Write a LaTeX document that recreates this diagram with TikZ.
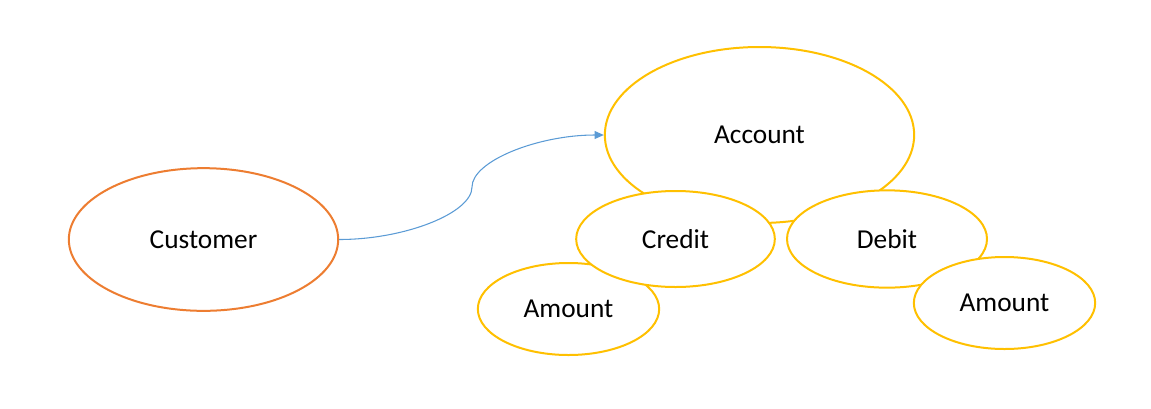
\documentclass[tikz,border=0pt]{standalone}
\usepackage{fontspec}
\setmainfont{Carlito}
\usetikzlibrary{shapes.geometric,arrows.meta}

\definecolor{custorange}{HTML}{ED7D31}
\definecolor{acctyellow}{HTML}{FFC000}
\definecolor{linkblue}{HTML}{5B9BD5}

\tikzset{
    entity/.style={ellipse, draw, fill=white, line width=1.5pt, inner sep=0pt, font=\fontsize{20.5}{24}\selectfont},
    link/.style={draw=linkblue, line width=0.8pt, -{Triangle[length=7pt,width=6pt]}}
}

\begin{document}
\begin{tikzpicture}[x=0.75pt,y=-0.75pt]
\useasboundingbox (0,0) rectangle (1151,408);

% Entities
\node[entity, draw=custorange, minimum width=202pt, minimum height=107pt] (Customer) at (203.5,239.5) {Customer};
\node[entity, draw=acctyellow, minimum width=232pt, minimum height=132pt] (Account) at (759.5,135) {Account};
\node[entity, draw=acctyellow, minimum width=136pt, minimum height=69pt] (Amount1) at (568.5,309) {Amount};
\node[entity, draw=acctyellow, minimum width=149pt, minimum height=72pt] (Credit) at (675.5,239) {Credit};
\node[entity, draw=acctyellow, minimum width=150pt, minimum height=73pt] (Debit) at (887,239) {Debit};
\node[entity, draw=acctyellow, minimum width=136pt, minimum height=69pt] (Amount2) at (1004.5,303) {Amount};

% Relation
\coordinate (Bend) at (472,187);
\draw[link] (Customer.east) .. controls (405,239.5) and (472,213) .. (Bend)
    .. controls (472,161) and (538,135) .. (Account.west);
\end{tikzpicture}
\end{document}
